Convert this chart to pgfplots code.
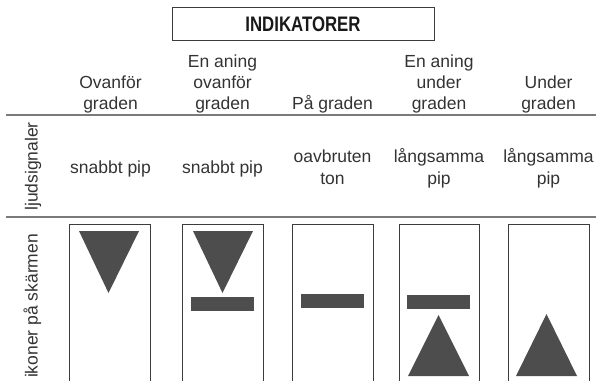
\documentclass[border=0pt]{standalone}
\usepackage{fontspec}
\setmainfont{Liberation Sans}
\usepackage{graphicx}
\usepackage{pgfplots}
\pgfplotsset{compat=1.18}
\definecolor{icon}{HTML}{4D4D4D}
\definecolor{txt}{HTML}{333333}
\definecolor{sep}{HTML}{7A7A7A}
\definecolor{boxc}{HTML}{3C3C3C}
\tikzset{lbl/.style={font=\fontsize{17.5bp}{21bp}\selectfont, text=txt, inner sep=0pt, anchor=base}}
\begin{document}
\begin{tikzpicture}
\begin{axis}[
  scale only axis, width=596bp, height=381bp,
  xmin=0, xmax=596, ymin=0, ymax=381, y dir=reverse,
  hide axis, clip=false,
]
% title box
\addplot[draw=boxc, line width=1bp] coordinates {(172,7.5) (434,7.5) (434,41) (172,41)} -- cycle;
\node[anchor=base, inner sep=0pt, font=\fontsize{21bp}{24bp}\selectfont\bfseries, text=black!90] at (axis cs:303,31.5) {\scalebox{0.8}[1]{INDIKATORER}};
% separator lines
\addplot[draw=sep, line width=1.3bp] coordinates {(6,115) (596,115)};
\addplot[draw=sep, line width=1.3bp] coordinates {(6,217) (596,217)};
% header
\node[lbl] at (axis cs:110.5,88) {Ovanför};
\node[lbl] at (axis cs:110.5,109) {graden};
\node[lbl] at (axis cs:222.5,67) {En aning};
\node[lbl] at (axis cs:222.5,88) {ovanför};
\node[lbl] at (axis cs:222.5,109) {graden};
\node[lbl] at (axis cs:332.5,109) {På graden};
\node[lbl] at (axis cs:439,67) {En aning};
\node[lbl] at (axis cs:439,88) {under};
\node[lbl] at (axis cs:439,109) {graden};
\node[lbl] at (axis cs:548.5,88) {Under};
\node[lbl] at (axis cs:548.5,109) {graden};
% sound row
\node[lbl] at (axis cs:110.5,173.5) {snabbt pip};
\node[lbl] at (axis cs:222.5,173.5) {snabbt pip};
\node[lbl] at (axis cs:332.5,162.5) {oavbruten};
\node[lbl] at (axis cs:332.5,184) {ton};
\node[lbl] at (axis cs:439,162.5) {långsamma};
\node[lbl] at (axis cs:439,184) {pip};
\node[lbl] at (axis cs:548.5,162.5) {långsamma};
\node[lbl] at (axis cs:548.5,184) {pip};
% row labels
\node[lbl, rotate=90] at (axis cs:37.5,166.5) {ljudsignaler};
\node[lbl, rotate=90] at (axis cs:37.5,306) {ikoner på skärmen};
% boxes
\addplot[draw=boxc, line width=1bp] coordinates {(69.5,384) (69.5,224) (150.5,224) (150.5,384)};
\addplot[draw=boxc, line width=1bp] coordinates {(182,384) (182,224) (263,224) (263,384)};
\addplot[draw=boxc, line width=1bp] coordinates {(292,384) (292,224) (373,224) (373,384)};
\addplot[draw=boxc, line width=1bp] coordinates {(399,384) (399,224) (479,224) (479,384)};
\addplot[draw=boxc, line width=1bp] coordinates {(508,384) (508,224) (589,224) (589,384)};
% icons
\addplot[fill=icon, draw=none] coordinates {(79,231) (139,231) (108.5,293)} -- cycle;
\addplot[fill=icon, draw=none] coordinates {(193,231) (253,231) (222.5,293)} -- cycle;
\addplot[fill=icon, draw=none] coordinates {(191,297) (254,297) (254,311) (191,311)} -- cycle;
\addplot[fill=icon, draw=none] coordinates {(301,294) (364,294) (364,308) (301,308)} -- cycle;
\addplot[fill=icon, draw=none] coordinates {(407,295) (470,295) (470,309) (407,309)} -- cycle;
\addplot[fill=icon, draw=none] coordinates {(408,376) (469,376) (438.5,315)} -- cycle;
\addplot[fill=icon, draw=none] coordinates {(516,376) (577,376) (546.5,314)} -- cycle;
\end{axis}
\pgfresetboundingbox
\path (current axis.south west) rectangle (current axis.north east);
\end{tikzpicture}
\end{document}
